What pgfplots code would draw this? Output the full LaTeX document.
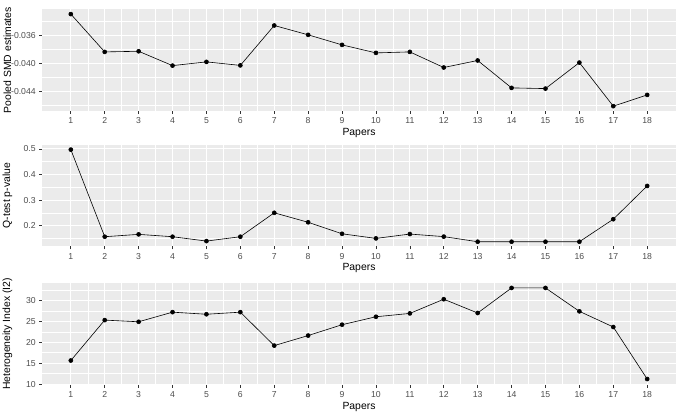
\documentclass[border=0pt]{standalone}
\usepackage{pgfplots}
\pgfplotsset{compat=1.18}
\usepackage{fontspec}
\setmainfont{Liberation Sans}
\definecolor{panel}{HTML}{EBEBEB}
\definecolor{grey30}{HTML}{4D4D4D}
\definecolor{grey20}{HTML}{333333}

\pgfplotsset{gg/.style={
  scale only axis, width=475.5pt, height=76pt,
  axis background/.style={fill=panel},
  axis line style={draw=none},
  xmin=0.15, xmax=18.85,
  xtick={1,...,18},
  minor xtick={1.5,2.5,...,17.5},
  grid=both,
  major grid style={white, line width=0.75pt},
  minor grid style={white, line width=0.4pt},
  tick align=outside,
  tick style={grey20, line width=0.5pt},
  major tick length=2.2pt, minor tick length=0pt,
  xtick pos=bottom, ytick pos=left,
  scaled y ticks=false,
  ticklabel style={font=\fontsize{6.5}{7.2}\selectfont, text=grey30},
  yticklabel style={xshift=1pt},
  xticklabel style={yshift=0.5pt},
  /pgf/number format/assume math mode=true,
  xlabel=Papers,
  xlabel style={font=\fontsize{7.8}{9}\selectfont, at={(axis description cs:0.5,0)}, anchor=center, yshift=-16.5pt},
  ylabel style={font=\fontsize{7.8}{9}\selectfont, at={(axis description cs:-0.0545,0.5)}, anchor=center, rotate=0},
}}
\pgfplotsset{ggline/.style={black, line width=0.45pt, mark=*, mark size=1.5pt, mark options={fill=black, solid}}}

\begin{document}
\begin{tikzpicture}
\useasboundingbox (0,0) rectangle (513.75pt,-315pt);

\begin{axis}[gg, anchor=north west, at={(31.5pt,-7.1pt)},
  ymin=-0.04676, ymax=-0.03234,
  ytick={-0.044,-0.040,-0.036},
  yticklabels={{\mbox{-}0.044},{\mbox{-}0.040},{\mbox{-}0.036}},
  minor ytick={-0.046,-0.042,-0.038,-0.034},
  ylabel={Pooled SMD estimates}]
\addplot[ggline] coordinates {
(1,-0.0330) (2,-0.03838) (3,-0.03829) (4,-0.04033) (5,-0.0398) (6,-0.0403)
(7,-0.03462) (8,-0.03595) (9,-0.03738) (10,-0.03852) (11,-0.03838) (12,-0.0406)
(13,-0.0396) (14,-0.0435) (15,-0.0436) (16,-0.0399) (17,-0.0461) (18,-0.0445)};
\end{axis}

\begin{axis}[gg, anchor=north west, at={(31.5pt,-108.75pt)},
  ymin=0.119, ymax=0.515,
  ytick={0.2,0.3,0.4,0.5}, yticklabels={0.2,0.3,0.4,0.5},
  minor ytick={0.15,0.25,0.35,0.45},
  ylabel={Q-test p-value}]
\addplot[ggline] coordinates {
(1,0.497) (2,0.1566) (3,0.1658) (4,0.1566) (5,0.1395) (6,0.1566)
(7,0.250) (8,0.213) (9,0.168) (10,0.150) (11,0.167) (12,0.157)
(13,0.137) (14,0.137) (15,0.137) (16,0.137) (17,0.225) (18,0.355)};
\end{axis}

\begin{axis}[gg, anchor=north west, at={(31.5pt,-212.5pt)},
  ymin=9.85, ymax=34.1,
  ytick={10,15,20,25,30},
  minor ytick={12.5,17.5,22.5,27.5,32.5},
  ylabel={Heterogeneity Index (I2)}]
\addplot[ggline] coordinates {
(1,15.63) (2,25.3) (3,24.9) (4,27.2) (5,26.7) (6,27.2)
(7,19.2) (8,21.6) (9,24.2) (10,26.1) (11,26.9) (12,30.3)
(13,27.0) (14,33.0) (15,33.0) (16,27.4) (17,23.65) (18,11.2)};
\end{axis}
\end{tikzpicture}
\end{document}
